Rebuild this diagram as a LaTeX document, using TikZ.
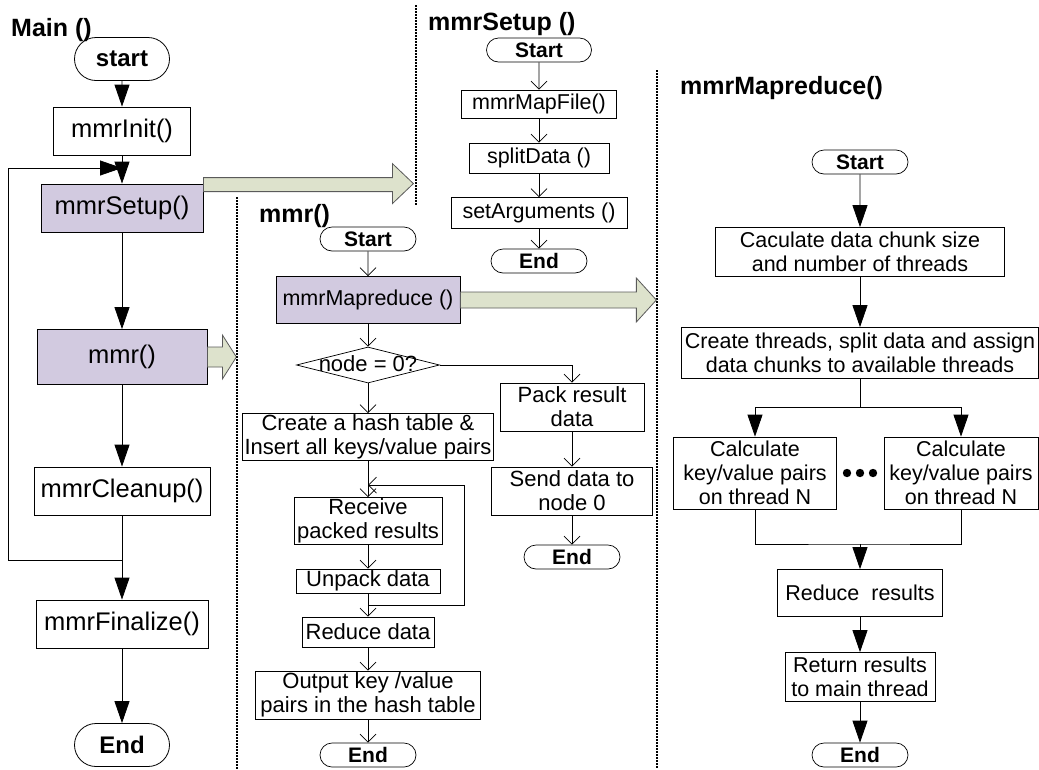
\documentclass[tikz,border=0pt]{standalone}
\usepackage{fontspec}
\setmainfont{Liberation Sans}
\usepackage{tikz}
\usetikzlibrary{shapes.geometric, shapes.misc, arrows.meta, positioning}
\definecolor{callfill}{RGB}{210,202,224}
\definecolor{arrowfill}{RGB}{221,226,204}
\definecolor{arrowline}{RGB}{90,90,90}
\tikzstyle{heading} = [anchor=west, inner sep=0pt, font=\bfseries\fontsize{25}{28}\selectfont]
\tikzstyle{mainbox} = [rectangle, draw=black, line width=0.8pt, minimum height=48pt, inner sep=0pt, font=\fontsize{25.5}{28}\selectfont]
\tikzstyle{callbox} = [mainbox, fill=callfill]
\tikzstyle{mainstop} = [rounded rectangle, draw=black, line width=0.8pt, minimum width=95pt, minimum height=43pt, inner sep=0pt, font=\bfseries\fontsize{24}{28}\selectfont]
\tikzstyle{process} = [rectangle, draw=black, line width=0.7pt, inner sep=0pt, align=center, font=\fontsize{21.5}{24}\selectfont]
\tikzstyle{startstop} = [rounded rectangle, draw=black, line width=0.7pt, minimum width=96pt, minimum height=24pt, inner sep=0pt, font=\bfseries\fontsize{21}{24}\selectfont]
\tikzstyle{decision} = [diamond, aspect=4, draw=black, line width=0.7pt, inner sep=0pt, font=\fontsize{22}{24}\selectfont]
\tikzstyle{arrow} = [line width=0.8pt, -{Triangle[length=22pt,width=15pt]}]
\tikzstyle{line} = [draw, line width=0.7pt, -{Straight Barb[length=8pt,width=16pt]}]
\tikzstyle{bigarrow} = [draw=arrowline, fill=arrowfill, line width=0.8pt]
\tikzstyle{divider} = [line width=1.5pt, dash pattern=on 1.5pt off 1.5pt]

\begin{document}
\begin{tikzpicture}[x=1pt, y=-1pt, node distance=60pt]
	\useasboundingbox (0,0) rectangle (1039,769);

	% Main ()
	\node (maintitle) [heading] at (11,30) {Main ()};
	\node (start) [mainstop] at (122,59) {start};
	\node (init) [mainbox, below of=start, node distance=72pt, minimum width=137pt] {mmrInit()};
	\node (setup) [callbox, below of=init, node distance=77pt, minimum width=162pt] {mmrSetup()};
	\node (mmr) [callbox, below of=setup, node distance=149pt, minimum width=170pt, minimum height=55pt] {mmr()};
	\node (cleanup) [mainbox, below of=mmr, node distance=134pt, minimum width=176pt] {mmrCleanup()};
	\node (finalize) [mainbox, below of=cleanup, node distance=133pt, minimum width=172pt] {mmrFinalize()};
	\node (stop) [mainstop, below of=finalize, node distance=121pt] {End};
	\coordinate (back) at (122,560);
	\coordinate (again) at (122,168);

	\draw [arrow] (start) -- (init);
	\draw [arrow] (init) -- (setup);
	\draw [arrow] (setup) -- (mmr);
	\draw [arrow] (mmr) -- (cleanup);
	\draw [arrow] (cleanup) -- (finalize);
	\draw [arrow] (finalize) -- (stop);
	\draw [arrow] (back) -- ++(-114,0) |- (again);

	% calls into the other flows
	\draw [bigarrow] ([yshift=6pt]setup.north east) -- ++(189,0) -- ++(0,-14) -- ++(21,20) -- ++(-21,20) -- ++(0,-12) -- ++(-189,0) -- cycle;
	\draw [bigarrow] ([yshift=10pt]mmr.east) -- ++(15,0) -- ++(0,-12) -- ++(14,22) -- ++(-14,22) -- ++(0,-12) -- ++(-15,0) -- cycle;

	% dividers
	\draw [divider] (237,197) -- (237,769);
	\draw [divider] (416,5) -- (416,205);
	\draw [divider] (657,70) -- (657,769);

	% mmrSetup ()
	\node (setuptitle) [heading] at (428,24) {mmrSetup ()};
	\node (sstart) [startstop, minimum width=105pt] at (539,50) {Start};
	\node (mapfile) [process, below of=sstart, node distance=54pt, minimum width=155pt, minimum height=28pt] {mmrMapFile()};
	\node (split) [process, below of=mapfile, node distance=54pt, minimum width=140pt, minimum height=30pt] {splitData ()};
	\node (setarg) [process, below of=split, node distance=55pt, minimum width=176pt, minimum height=31pt] {setArguments ()};
	\node (sstop) [startstop, below of=setarg, node distance=48pt] {End};

	\path [line] (sstart) -- (mapfile);
	\path [line] (mapfile) -- (split);
	\path [line] (split) -- (setarg);
	\path [line] (setarg) -- (sstop);

	% mmr()
	\node (mmrtitle) [heading] at (259,216) {mmr()};
	\node (mstart) [startstop] at (368,239) {Start};
	\node (mapreduce) [process, fill=callfill, below of=mstart, node distance=61pt, minimum width=184pt, minimum height=47pt] {mmrMapreduce ()};
	\node (isroot) [decision, below of=mapreduce, node distance=65pt, minimum width=143pt, minimum height=36pt] {\makebox[0pt]{\raisebox{-6pt}[0pt][0pt]{node = 0?}}};
	\node (hash) [process, below of=isroot, node distance=72pt, minimum width=251pt, minimum height=47pt, font=\fontsize{22}{24}\selectfont] {Create a hash table \&\\Insert all keys/value pairs};
	\node (recv) [process, below of=hash, node distance=84pt, minimum width=148pt, minimum height=47pt, font=\fontsize{22}{24}\selectfont] {Receive\\packed results};
	\node (unpack) [process, below of=recv, node distance=60pt, minimum width=144pt, minimum height=24pt, font=\fontsize{22}{24}\selectfont] {Unpack data};
	\node (reduce) [process, below of=unpack, node distance=51pt, minimum width=132pt, minimum height=30pt, font=\fontsize{22}{24}\selectfont] {Reduce data};
	\node (output) [process, below of=reduce, node distance=63pt, minimum width=225pt, minimum height=48pt, font=\fontsize{22}{24}\selectfont] {Output key /value\\pairs in the hash table};
	\node (mstop) [startstop, below of=output, node distance=60pt] {End};

	\node (pack) [process, minimum width=144pt, minimum height=48pt, font=\fontsize{22}{24}\selectfont] at (572,407) {Pack result\\data};
	\node (senddata) [process, below of=pack, node distance=84pt, minimum width=161pt, minimum height=48pt, font=\fontsize{22}{24}\selectfont] {Send data to\\node 0};
	\node (mstop2) [startstop, below of=senddata, node distance=66pt] {End};
	\coordinate (lp) at (368,605);
	\coordinate (lpin) at (368,485);

	\path [line] (mstart) -- (mapreduce);
	\path [line] (mapreduce) -- (isroot);
	\path [line] (isroot) -- (hash);
	\path [line] (hash) -- (recv);
	\path [line] (recv) -- (unpack);
	\path [line] (unpack) -- (reduce);
	\path [line] (reduce) -- (output);
	\path [line] (output) -- (mstop);
	\path [line] (isroot.east) -| (pack);
	\path [line] (pack) -- (senddata);
	\path [line] (senddata) -- (mstop2);
	\path [line] (lp) -- ++(96,0) |- (lpin);

	\draw [bigarrow] ([yshift=8pt]mapreduce.east) -- ++(176,0) -- ++(0,-14) -- ++(20,22) -- ++(-20,22) -- ++(0,-14) -- ++(-176,0) -- cycle;

	% mmrMapreduce()
	\node (mrtitle) [heading] at (680,88) {mmrMapreduce()};
	\node (rstart) [startstop] at (860,162) {Start};
	\node (chunk) [process, below of=rstart, node distance=90pt, minimum width=289pt, minimum height=49pt] {Caculate data chunk size\\and number of threads};
	\node (spawn) [process, below of=chunk, node distance=101pt, minimum width=357pt, minimum height=51pt] {Create threads, split data and assign\\data chunks to available threads};
	\node (thread1) [process, minimum width=163pt, minimum height=72pt] at (755,473) {Calculate\\key/value pairs\\on thread N};
	\node (threadn) [process, right of=thread1, node distance=206pt, minimum width=154pt, minimum height=72pt] {Calculate\\key/value pairs\\on thread N};
	\node (rreduce) [process, minimum width=165pt, minimum height=47pt] at (860,593) {Reduce\ \ results};
	\node (ret) [process, below of=rreduce, node distance=84pt, minimum width=150pt, minimum height=49pt] {Return results\\to main thread};
	\node (rstop) [startstop, below of=ret, node distance=78pt] {End};
	\coordinate (fork) at (860,407);
	\coordinate (join) at (860,544);
	\fill (847,473) circle (4.2pt) (860,473) circle (4.2pt) (873,473) circle (4.2pt);

	\draw [arrow] (rstart) -- (chunk);
	\draw [arrow] (chunk) -- (spawn);
	\draw [line width=0.8pt] (spawn) -- (fork);
	\draw [arrow] (fork) -| (thread1);
	\draw [arrow] (fork) -| (threadn);
	\draw [line width=0.8pt] (thread1) |- (join) -| (threadn);
	\draw [arrow] (join) -- (rreduce);
	\draw [arrow] (rreduce) -- (ret);
	\draw [arrow] (ret) -- (rstop);
\end{tikzpicture}
\end{document}
